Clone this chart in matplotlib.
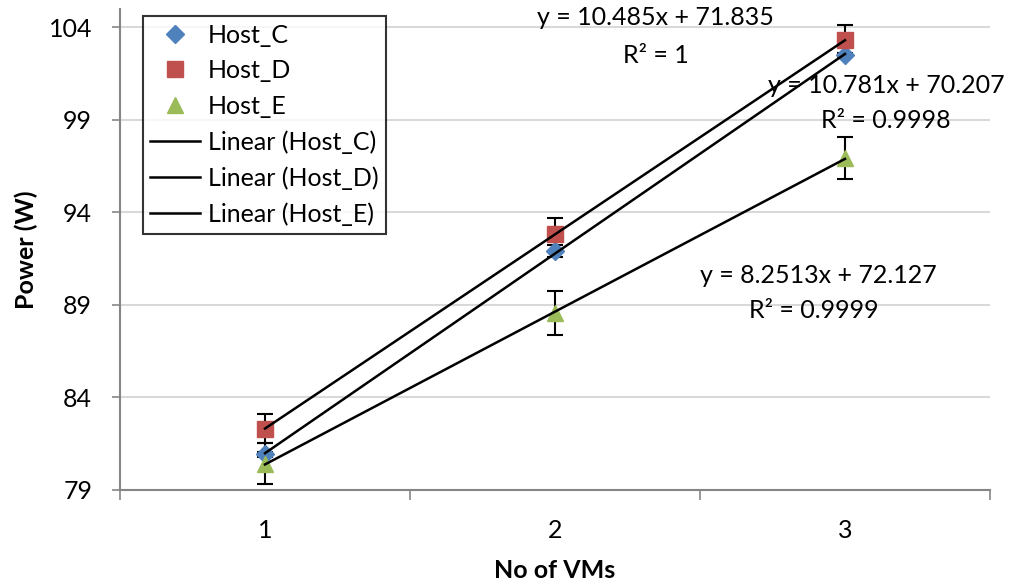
import numpy as np
import matplotlib.pyplot as plt

plt.rcParams['font.family'] = ['Lato', 'DejaVu Sans']

vms = np.array([1, 2, 3])
host_c = np.array([80.92, 91.90, 102.48])
host_d = np.array([82.32, 92.80, 103.29])
host_e = np.array([80.42, 88.55, 96.92])
err_c = np.array([0.12, 0.33, 0.12])
err_d = np.array([0.80, 0.90, 0.80])
err_e = np.array([1.10, 1.20, 1.15])

series = [
    ('Host_C', host_c, err_c, 'D', '#4F81BD', 9),
    ('Host_D', host_d, err_d, 's', '#C0504D', 12),
    ('Host_E', host_e, err_e, '^', '#9BBB59', 12),
]
eq_text = [
    ('y = 10.781x + 70.207', 'R² = 0.9998', (3.141, 100.87), (3.141, 98.98)),
    ('y = 10.485x + 71.835', 'R² = 1', (2.348, 104.49), (2.348, 102.49)),
    ('y = 8.2513x + 72.127', 'R² = 0.9999', (2.907, 90.61), (2.893, 88.72)),
]

fs = 18

fig = plt.figure(figsize=(10.11, 5.85), dpi=100)
ax = fig.add_axes([0.1187, 0.1624, 0.8605, 0.823])

pts = []
for name, y, e, m, c, s in series:
    ax.errorbar(vms, y, yerr=e, fmt='none', ecolor='black', elinewidth=1.5,
                capsize=6, capthick=1.5, zorder=3)
    p, = ax.plot(vms, y, linestyle='none', marker=m, color=c, markersize=s,
                 label=name, zorder=4)
    pts.append(p)

lines = []
for name, y, e, m, c, s in series:
    k, b = np.polyfit(vms, y, 1)
    l, = ax.plot(vms, k * vms + b, color='black', lw=1.8,
                 label='Linear (%s)' % name, zorder=5)
    lines.append(l)

for eq, r2, p1, p2 in eq_text:
    ax.text(p1[0], p1[1], eq, ha='center', va='center', fontsize=fs)
    ax.text(p2[0], p2[1], r2, ha='center', va='center', fontsize=fs)

ax.set_xlim(0.5, 3.5)
ax.set_ylim(79, 105)
ax.set_yticks([79, 84, 89, 94, 99, 104])
ax.set_xticks([1, 2, 3])
ax.set_xticks([0.5, 1.5, 2.5, 3.5], minor=True)
ax.tick_params(axis='x', which='major', length=0, pad=21, labelsize=fs)
ax.tick_params(axis='x', which='minor', length=7, color='#868686', width=1.2)
ax.tick_params(axis='y', length=6, pad=14, color='#868686', width=1.2,
               labelsize=fs)
ax.grid(axis='y', color='#D9D9D9', lw=1.5)
ax.set_axisbelow(True)
for side in ['top', 'right']:
    ax.spines[side].set_visible(False)
for side in ['left', 'bottom']:
    ax.spines[side].set_color('#868686')
    ax.spines[side].set_linewidth(1.5)

ax.set_xlabel('No of VMs', fontsize=fs, fontweight='bold', labelpad=12)
ax.set_ylabel('Power (W)', fontsize=fs, fontweight='bold', labelpad=8)

leg = ax.legend(handles=pts + lines, loc='upper left',
                bbox_to_anchor=(0.026, 0.984), borderaxespad=0,
                fontsize=fs, frameon=True, fancybox=False, edgecolor='black',
                handlelength=2.0, labelspacing=0.5, borderpad=0.3,
                handletextpad=0.3)
leg.get_frame().set_linewidth(1.5)

fig.savefig('out.png', dpi=100)
